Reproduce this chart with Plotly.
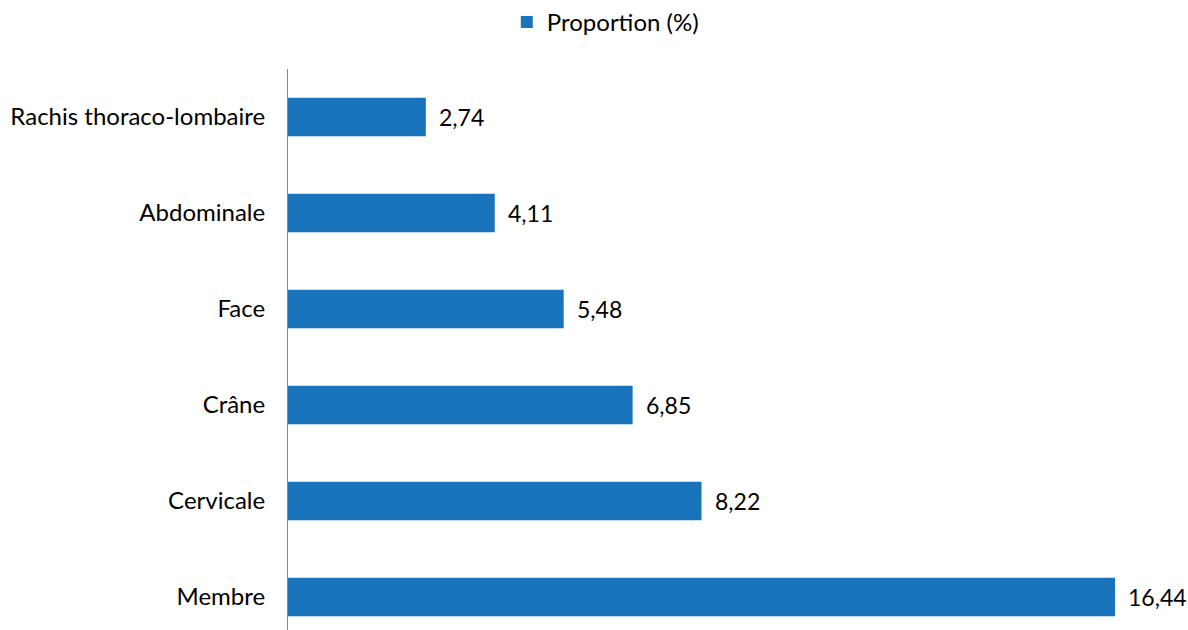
import plotly.graph_objects as go

categories = ["Membre", "Cervicale", "Crâne", "Face", "Abdominale", "Rachis thoraco-lombaire"]
values = [16.44, 8.22, 6.85, 5.48, 4.11, 2.74]
labels = ["16,44", "8,22", "6,85", "5,48", "4,11", "2,74"]

FONT = "Lato, Carlito, Calibri, sans-serif"

fig = go.Figure()
fig.add_trace(go.Bar(
    y=categories, x=values, orientation="h",
    name="Proportion (%)",
    marker=dict(color="#1a74bb", line=dict(width=0)),
    width=0.4,
    cliponaxis=False,
    showlegend=True,
))

for c, v, t in zip(categories, values, labels):
    fig.add_annotation(x=v, y=c, text=t, showarrow=False, xanchor="left",
                       xshift=11, font=dict(size=23, family=FONT, color="#000000"))

fig.update_layout(
    width=1188, height=630,
    margin=dict(l=288, r=0, t=69, b=0),
    paper_bgcolor="white", plot_bgcolor="white",
    font=dict(family=FONT, size=24, color="#000000"),
    showlegend=True,
    legend=dict(orientation="h", xref="container", yref="container",
                x=0.5095, xanchor="center", y=1.0, yanchor="top",
                font=dict(size=24, family=FONT), itemwidth=30),
    xaxis=dict(range=[0, 17.89], visible=False, showgrid=False, zeroline=False),
    yaxis=dict(range=[-0.344, 5.5], showline=True, linecolor="#888888", linewidth=1,
               showgrid=False, zeroline=False, ticks="", ticklabelstandoff=17,
               tickfont=dict(size=24, family=FONT, color="#000000")),
    bargap=0.6,
)

fig.write_html("out.html")
